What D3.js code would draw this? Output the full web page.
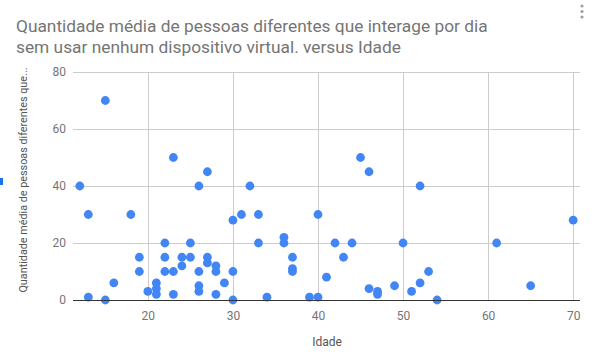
<!DOCTYPE html>
<html><head><meta charset="utf-8">
<script src="https://cdn.jsdelivr.net/npm/d3@7"></script>
<style>
html,body{margin:0;padding:0;background:#fff;}
svg{display:block;font-family:Roboto,"Noto Sans",sans-serif;}
</style></head>
<body><svg id="c" width="594" height="360"></svg>
<script>
const titleLines = ["Quantidade média de pessoas diferentes que interage por dia", "sem usar nenhum dispositivo virtual. versus Idade"];
const xTitle = "Idade";
const yTitle = "Quantidade média de pessoas diferentes que...";
const xTicks = [20, 30, 40, 50, 60, 70];
const yTicks = [0, 20, 40, 60, 80];
const ages = [15,12,23,26,27,13,18,30,31,22,25,19,22,24,25,27,27,28,24,19,22,23,26,28,30,29,26,26,21,21,21,20,23,28,16,13,15,30,32,45,46,33,40,36,36,33,42,44,37,43,37,37,41,46,47,47,49,34,39,40,52,50,61,70,53,52,51,65,54];
const people = [70,40,50,40,45,30,30,28,30,20,20,15,15,15,15,15,13,12,12,10,10,10,10,10,10,6,5,3,6,4,2,3,2,2,6,1,0,0,40,50,45,30,30,22,20,20,20,20,15,15,11,10,8,4,3,2,5,1,1,1,40,20,20,28,10,6,3,5,0];

const svg = d3.select("#c");
const x = d3.scaleLinear().domain([11.2, 70.8]).range([73, 580]);
const y = d3.scaleLinear().domain([0, 80]).range([300, 72]);

// title
const t1 = svg.append("text").attr("x", 16).attr("y", 32).attr("fill", "#757575").attr("font-size", 20).text(titleLines[0]);
const w = t1.node().getComputedTextLength();
const fs = 20 * 472 / w;
t1.attr("font-size", fs);
svg.append("text").attr("x", 16).attr("y", 53).attr("fill", "#757575").attr("font-size", fs).text(titleLines[1]);

// menu dots
[6, 11.5, 17].forEach(cy => svg.append("circle").attr("cx", 582).attr("cy", cy).attr("r", 1.6).attr("fill", "#9e9e9e"));
// small blue marker at left edge
svg.append("rect").attr("x", 0).attr("y", 178).attr("width", 3).attr("height", 7).attr("fill", "#1a73e8");

// grid
const g = svg.append("g");
g.selectAll(".hg").data(yTicks.filter(d => d > 0)).enter().append("line")
  .attr("x1", 73).attr("x2", 580).attr("y1", d => y(d)).attr("y2", d => y(d))
  .attr("stroke", "#cccccc").attr("stroke-width", 1).attr("shape-rendering", "crispEdges");
g.selectAll(".vg").data(xTicks).enter().append("line")
  .attr("x1", d => Math.round(x(d))).attr("x2", d => Math.round(x(d))).attr("y1", 72).attr("y2", 300)
  .attr("stroke", "#cccccc").attr("stroke-width", 1).attr("shape-rendering", "crispEdges");

// axes labels via d3 axes (no domain/ticks lines)
const xa = svg.append("g").attr("transform", "translate(0,300)")
  .call(d3.axisBottom(x).tickValues(xTicks).tickSize(0).tickPadding(11));
xa.select(".domain").remove();
xa.selectAll("text").attr("fill", "#757575").attr("font-size", 12).attr("font-family", "Roboto");
const ya = svg.append("g").attr("transform", "translate(73,0)")
  .call(d3.axisLeft(y).tickValues(yTicks).tickSize(0).tickPadding(7));
ya.select(".domain").remove();
ya.selectAll("text").attr("fill", "#757575").attr("font-size", 12).attr("font-family", "Roboto");

// points
svg.append("g").selectAll("circle").data(ages.map((a, i) => [a, people[i]])).enter().append("circle")
  .attr("cx", d => x(d[0])).attr("cy", d => y(d[1])).attr("r", 4.4).attr("fill", "#4285f4");

// baseline
svg.append("line").attr("x1", 73).attr("x2", 580).attr("y1", 300).attr("y2", 300)
  .attr("stroke", "#333333").attr("stroke-width", 1).attr("shape-rendering", "crispEdges");

// axis titles
svg.append("text").attr("x", 327).attr("y", 346).attr("text-anchor", "middle")
  .attr("fill", "#555555").attr("font-size", 12).text(xTitle);
svg.append("text").attr("transform", "translate(27,180) rotate(-90)").attr("text-anchor", "middle")
  .attr("fill", "#555555").attr("font-size", 10.8).text(yTitle);
</script></body></html>
